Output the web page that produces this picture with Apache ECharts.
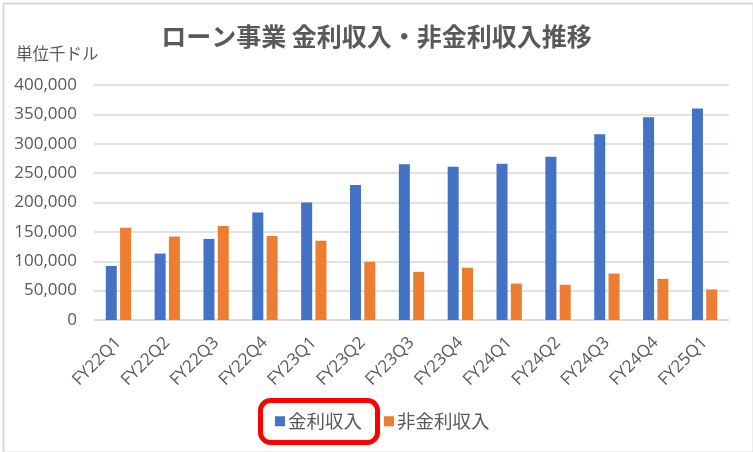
<!DOCTYPE html>
<html>
<head>
<meta charset="utf-8">
<script src="https://cdn.jsdelivr.net/npm/echarts@6/dist/echarts.min.js"></script>
<style>
  html, body { margin: 0; padding: 0; background: #fff; }
  #chart { width: 753px; height: 452px; }
</style>
</head>
<body>
<div id="chart"></div>
<script>
var categories = ['FY22Q1', 'FY22Q2', 'FY22Q3', 'FY22Q4', 'FY23Q1', 'FY23Q2', 'FY23Q3',
    'FY23Q4', 'FY24Q1', 'FY24Q2', 'FY24Q3', 'FY24Q4', 'FY25Q1'];
var interestIncome = [92000, 113000, 138000, 183000, 200000, 230000, 265000,
    261000, 266000, 278000, 316000, 345000, 360000];
var nonInterestIncome = [157000, 142000, 160000, 143000, 135000, 99000, 82000,
    89000, 62000, 60000, 79000, 70000, 52000];
var seriesNames = ['金利収入', '非金利収入'];

var font = '"Noto Sans CJK JP", "Noto Sans", sans-serif';
var myChart = echarts.init(document.getElementById('chart'));

myChart.setOption({
    animation: false,
    title: {
        text: 'ローン事業 金利収入・非金利収入推移',
        left: 'center',
        top: 19,
        textStyle: { fontFamily: font, fontSize: 25, fontWeight: 'bold', color: '#595959' }
    },
    legend: {
        data: seriesNames,
        left: 270,
        top: 407,
        itemWidth: 10,
        itemHeight: 10,
        itemGap: 22,
        icon: 'rect',
        textStyle: { fontFamily: font, fontSize: 18.5, color: '#595959', padding: [0, 0, 0, -2] }
    },
    grid: {
        left: 94,
        right: 24,
        top: 85,
        bottom: 132
    },
    xAxis: {
        type: 'category',
        data: categories,
        axisLine: { lineStyle: { color: '#d9d9d9', width: 1.5 } },
        axisTick: { show: false },
        axisLabel: {
            rotate: 45,
            margin: 20,
            interval: 0,
            fontFamily: 'Open Sans, sans-serif',
            fontSize: 17,
            color: '#595959'
        }
    },
    yAxis: {
        type: 'value',
        min: 0,
        max: 400000,
        interval: 50000,
        axisLine: { show: false },
        axisTick: { show: false },
        splitLine: { lineStyle: { color: '#d9d9d9', width: 1.5 } },
        axisLabel: {
            margin: 17,
            fontFamily: 'Open Sans, sans-serif',
            fontSize: 17,
            color: '#595959',
            formatter: function (v) { return v.toLocaleString('en-US'); }
        }
    },
    series: [{
        name: seriesNames[0],
        type: 'bar',
        data: interestIncome,
        barWidth: 11,
        barGap: '30%',
        itemStyle: { color: '#4472C4' }
    }, {
        name: seriesNames[1],
        type: 'bar',
        data: nonInterestIncome,
        barWidth: 11,
        itemStyle: { color: '#ED7D31' }
    }],
    graphic: [{
        // outer chart frame
        type: 'rect',
        left: 1,
        top: 1,
        shape: { width: 750, height: 449 },
        style: { fill: 'none', stroke: '#d9d9d9', lineWidth: 2 },
        silent: true
    }, {
        type: 'text',
        left: 16,
        top: 45,
        style: { text: '単位千ドル', fontFamily: font, fontSize: 16.5, fill: '#595959' }
    }, {
        // red highlight round the first legend item
        type: 'rect',
        left: 258,
        top: 398,
        shape: { width: 117, height: 42, r: 10 },
        style: { fill: 'none', stroke: '#ff0000', lineWidth: 5 },
        silent: true,
        z: 100
    }]
});
</script>
</body>
</html>
